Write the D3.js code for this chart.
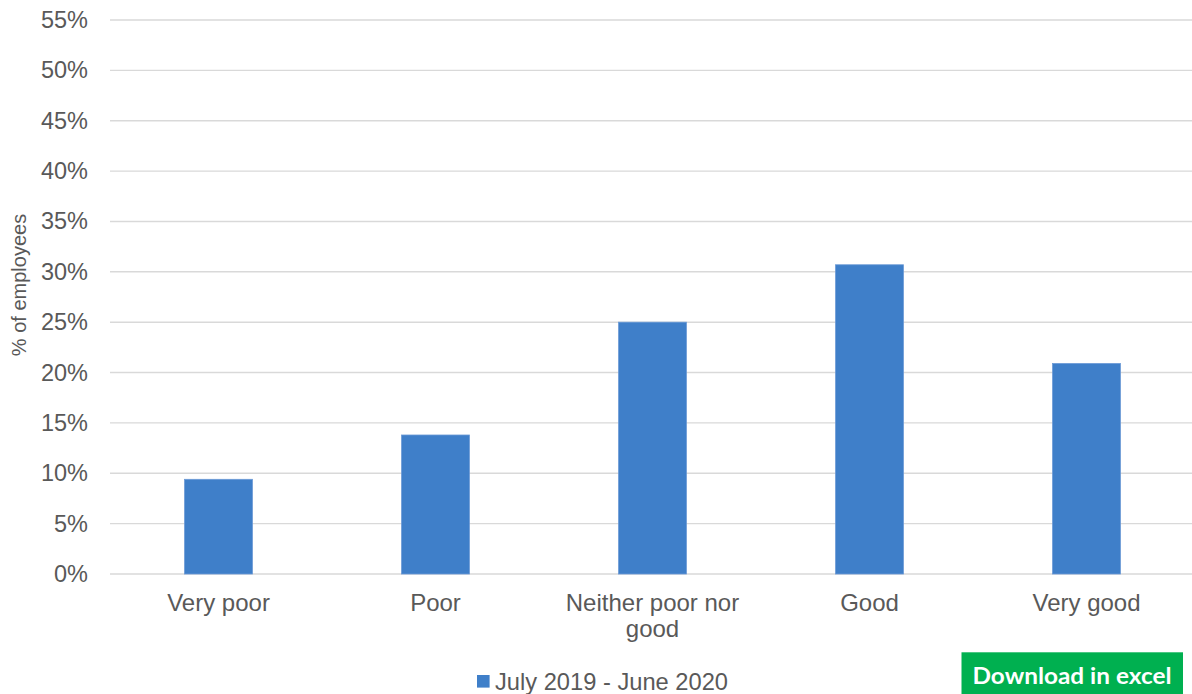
<!DOCTYPE html>
<html>
<head>
<meta charset="utf-8">
<script src="https://cdn.jsdelivr.net/npm/d3@7"></script>
<style>
  html, body { margin: 0; padding: 0; background: #fff; }
  svg { display: block; }
</style>
</head>
<body>
<svg id="chart" width="1192" height="694"></svg>
<script>
// Survey responses: share of employees per rating
const categories = ["Very poor", "Poor", "Neither poor nor good", "Good", "Very good"];
const values = [9.4, 13.8, 25.0, 30.7, 20.9];
const yTicks = [0, 5, 10, 15, 20, 25, 30, 35, 40, 45, 50, 55];
const seriesName = "July 2019 - June 2020";
const yTitle = "% of employees";
const buttonLabel = "Download in excel";

const plotLeft = 110, plotRight = 1195, plotTop = 20, plotBottom = 574;
const font = "'Liberation Sans', Arial, sans-serif";
const textColor = "#595959";
const barColor = "#3F7FC9";
const gridColor = "#d9d9d9";

const svg = d3.select("#chart");

const x = d3.scaleBand()
  .domain(categories)
  .range([plotLeft, plotRight])
  .paddingInner(0.687)
  .paddingOuter(0.3435);

const y = d3.scaleLinear()
  .domain([0, 55])
  .range([plotBottom, plotTop]);

// Horizontal gridlines
svg.append("g")
  .selectAll("line")
  .data(yTicks)
  .join("line")
  .attr("x1", plotLeft)
  .attr("x2", plotRight)
  .attr("y1", d => y(d))
  .attr("y2", d => y(d))
  .attr("stroke", gridColor)
  .attr("stroke-width", 1.4);

// Y axis tick labels
const yAxis = d3.axisLeft(y)
  .tickValues(yTicks)
  .tickFormat(d => d + "%")
  .tickSize(0)
  .tickPadding(22);

const yG = svg.append("g")
  .attr("transform", `translate(${plotLeft},0)`)
  .call(yAxis);
yG.select(".domain").remove();
yG.selectAll("text")
  .attr("font-family", font)
  .attr("font-size", 23.5)
  .attr("fill", textColor);

// Bars
svg.append("g")
  .selectAll("rect")
  .data(values)
  .join("rect")
  .attr("x", (d, i) => x(categories[i]))
  .attr("width", x.bandwidth())
  .attr("y", d => y(d))
  .attr("height", d => y(0) - y(d))
  .attr("fill", barColor)
  .attr("stroke", "#6b9ad6")
  .attr("stroke-width", 0.8);

// X axis category labels, wrapped to fit each band
const xAxis = d3.axisBottom(x).tickSize(0).tickPadding(20);
const xG = svg.append("g")
  .attr("transform", `translate(0,${plotBottom})`)
  .call(xAxis);
xG.select(".domain").remove();
xG.selectAll("text")
  .attr("font-family", font)
  .attr("font-size", 24)
  .attr("fill", textColor)
  .attr("dy", 0)
  .attr("y", 37)
  .each(function (d) {
    const t = d3.select(this);
    const words = d.split(" ");
    const maxW = x.step() * 0.95;
    t.text(null);
    let line = [];
    let lineNo = 0;
    let tspan = t.append("tspan").attr("x", 0).attr("y", 37);
    for (const w of words) {
      line.push(w);
      tspan.text(line.join(" "));
      if (tspan.node().getComputedTextLength() > maxW && line.length > 1) {
        line.pop();
        tspan.text(line.join(" "));
        line = [w];
        lineNo++;
        tspan = t.append("tspan").attr("x", 0).attr("y", 37 + lineNo * 25.5).text(w);
      }
    }
  });

// Y axis title
svg.append("text")
  .attr("transform", `translate(26,285) rotate(-90)`)
  .attr("text-anchor", "middle")
  .attr("font-family", font)
  .attr("font-size", 20)
  .attr("fill", textColor)
  .text(yTitle);

// Legend
const legend = svg.append("g").attr("transform", "translate(477,0)");
legend.append("rect")
  .attr("x", 0)
  .attr("y", 675)
  .attr("width", 12.6)
  .attr("height", 12.6)
  .attr("fill", barColor);
legend.append("text")
  .attr("x", 18)
  .attr("y", 689.5)
  .attr("font-family", font)
  .attr("font-size", 24)
  .attr("fill", textColor)
  .attr("textLength", 233)
  .attr("lengthAdjust", "spacingAndGlyphs")
  .text(seriesName);

// Download button
const btn = svg.append("g");
btn.append("rect")
  .attr("x", 961.5)
  .attr("y", 652.3)
  .attr("width", 221.5)
  .attr("height", 50)
  .attr("fill", "#00B050");
btn.append("text")
  .attr("x", 972.5)
  .attr("y", 683.5)
  .attr("font-family", "Lato, 'Open Sans', sans-serif")
  .attr("font-weight", 700)
  .attr("font-size", 23)
  .attr("fill", "#ffffff")
  .attr("textLength", 199)
  .attr("lengthAdjust", "spacingAndGlyphs")
  .text(buttonLabel);
</script>
</body>
</html>
